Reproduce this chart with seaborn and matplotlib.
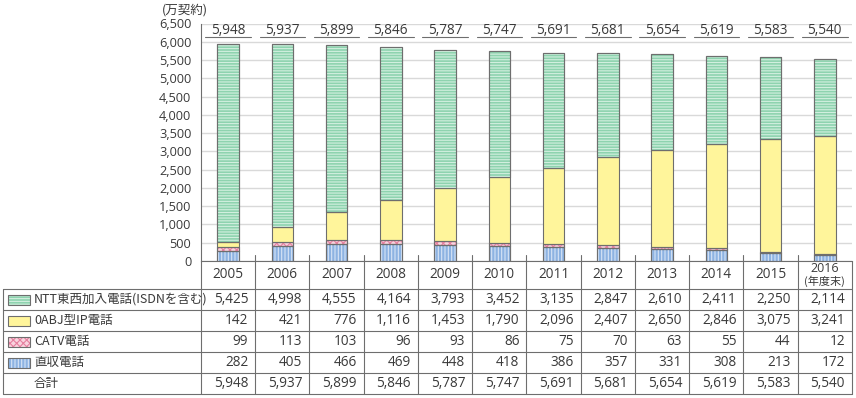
import numpy as np
import pandas as pd
import matplotlib
matplotlib.use("Agg")
import matplotlib.pyplot as plt
import seaborn as sns

years = ["2005", "2006", "2007", "2008", "2009", "2010",
         "2011", "2012", "2013", "2014", "2015", "2016"]
year_labels = years[:-1] + ["2016\n(年度末)"]
ntt = [5425, 4998, 4555, 4164, 3793, 3452, 3135, 2847, 2610, 2411, 2250, 2114]
ip0abj = [142, 421, 776, 1116, 1453, 1790, 2096, 2407, 2650, 2846, 3075, 3241]
catv = [99, 113, 103, 96, 93, 86, 75, 70, 63, 55, 44, 12]
chokushu = [282, 405, 466, 469, 448, 418, 386, 357, 331, 308, 213, 172]
totals = [5948, 5937, 5899, 5846, 5787, 5747, 5691, 5681, 5654, 5619, 5583, 5540]

series_names = ["NTT東西加入電話(ISDNを含む)", "0ABJ型IP電話", "CATV電話", "直収電話"]

sns.set_style("white")
plt.rcParams["font.family"] = ["Noto Sans CJK JP", "DejaVu Sans"]
plt.rcParams["hatch.linewidth"] = 0.8
NUM_FONT = ["Open Sans", "DejaVu Sans"]

TXT = "#3a3a3a"
W, H = 856, 398
fig = plt.figure(figsize=(W / 100, H / 100), dpi=100)

# pixel layout
ax_l, ax_r, ax_top, ax_bot = 201, 852, 23.5, 261
ax = fig.add_axes([ax_l / W, 1 - ax_bot / H, (ax_r - ax_l) / W, (ax_bot - ax_top) / H])

df = pd.DataFrame({"year": years, "ntt": ntt, "ip": ip0abj, "catv": catv, "chok": chokushu})

# (column, face, hatch, hatch colour)
styles = [
    ("chok", "#8db3e2", "|||||", "#d6e4f6"),
    ("catv", "#f9d3de", "xxxxx", "#e67f9f"),
    ("ip", "#fff59b", "", None),
    ("ntt", "#8ed3af", "------", "#d2efdf"),
]
bottom = np.zeros(len(years))
for col, face, hatch, hcol in styles:
    vals = df[col].to_numpy()
    sns.barplot(data=df, x="year", y=col, bottom=bottom, width=0.4, color=face,
                edgecolor="#6e6e6e", linewidth=0.8, ax=ax, errorbar=None,
                saturation=1)
    if hatch:
        ax.bar(np.arange(len(years)), vals, bottom=bottom, width=0.4, color="none",
               edgecolor=hcol, hatch=hatch, linewidth=0, zorder=3)
        ax.bar(np.arange(len(years)), vals, bottom=bottom, width=0.4, color="none",
               edgecolor="#6e6e6e", linewidth=0.8, zorder=4)
    bottom = bottom + vals

ax.set_xlim(-0.5, len(years) - 0.5)
ax.set_ylim(0, 6500)
ax.set_yticks(np.arange(0, 6501, 500))
ax.set_yticklabels([f"{v:,}" for v in range(0, 6501, 500)], fontsize=9.2, color=TXT,
                   family=NUM_FONT)
ax.set_xticks([])
ax.set_xlabel("")
ax.set_ylabel("")
ax.grid(axis="y", color="#d9d9d9", linewidth=1)
ax.set_axisbelow(True)
ax.tick_params(axis="y", length=0, pad=7)
for s in ["top", "right"]:
    ax.spines[s].set_visible(False)
ax.spines["left"].set_color("#6e6e6e")
ax.spines["bottom"].set_color("#6e6e6e")

# totals with underline
for i, t in enumerate(totals):
    ax.text(i, 6310, f"{t:,}", ha="center", va="center", fontsize=9.8, color=TXT,
            family=NUM_FONT)
    ax.plot([i - 0.42, i + 0.42], [6140, 6140], color="#6e6e6e", lw=0.8, clip_on=False)

fig.text(162 / W, 1 - 10 / H, "(万契約)", ha="left", va="center", fontsize=9, color=TXT)

# table below in pixel coordinates
tb = fig.add_axes([0, 0, 1, 1], facecolor="none")
tb.set_xlim(0, W)
tb.set_ylim(H, 0)
tb.axis("off")
col_w = (ax_r - ax_l) / len(years)
rows_y = [289, 310, 331, 352, 373, 394]
LC = "#6e6e6e"
for y in rows_y:
    tb.plot([3, ax_r], [y, y], color=LC, lw=0.8)
tb.plot([3, 3], [rows_y[0], rows_y[-1]], color=LC, lw=0.8)
for k in range(len(years) + 1):
    x = ax_l + k * col_w
    tb.plot([x, x], [255 if 0 < k < len(years) else ax_bot, rows_y[-1]], color=LC, lw=0.8)

for i, lab in enumerate(year_labels):
    cx = ax_l + (i + 0.5) * col_w
    if "\n" in lab:
        yr, sub = lab.split("\n")
        tb.text(cx, 268, yr, ha="center", va="center", fontsize=9, color=TXT,
                family=NUM_FONT)
        tb.text(cx, 281, sub, ha="center", va="center", fontsize=8, color=TXT)
    else:
        tb.text(cx, (ax_bot + rows_y[0]) / 2, lab, ha="center", va="center",
                fontsize=9.8, color=TXT, family=NUM_FONT)

table_rows = [ntt, ip0abj, catv, chokushu, totals]
row_labels = series_names + ["合計"]
swatch = [styles[3], styles[2], styles[1], styles[0]]
for r, (lab, vals) in enumerate(zip(row_labels, table_rows)):
    y0, y1 = rows_y[r], rows_y[r + 1]
    cy = (y0 + y1) / 2
    if r < 4:
        _, face, hatch, hcol = swatch[r]
        tb.add_patch(plt.Rectangle((8, cy - 5), 22, 10, facecolor=face,
                                   edgecolor=hcol if hatch else face, hatch=hatch or None, lw=0))
        tb.add_patch(plt.Rectangle((8, cy - 5), 22, 10, facecolor="none",
                                   edgecolor="#6e6e6e", lw=0.8))
    tb.text(34, cy, lab, ha="left", va="center", fontsize=9, color=TXT)
    for i, v in enumerate(vals):
        tb.text(ax_l + (i + 1) * col_w - 7, cy, f"{v:,}", ha="right", va="center",
                fontsize=9.8, color=TXT, family=NUM_FONT)

fig.savefig("out.png", dpi=100)
